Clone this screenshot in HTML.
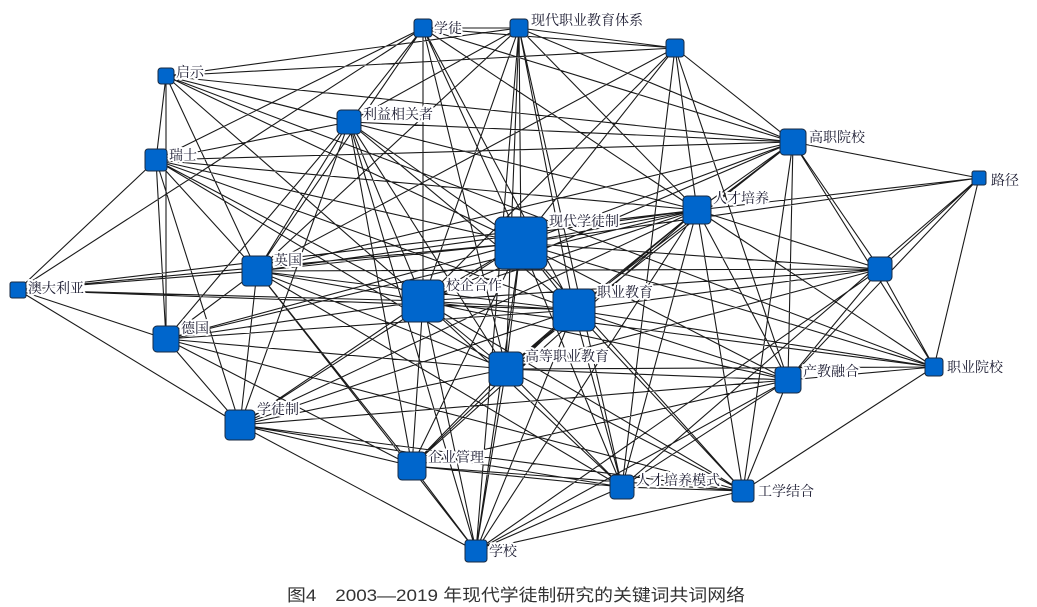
<!DOCTYPE html>
<html><head><meta charset="utf-8"><style>
html,body{margin:0;padding:0;background:#fff;}
svg{display:block}
text{font-family:"Liberation Serif","Noto Serif CJK SC",serif;font-size:14px;fill:#1a1a30;stroke:#fff;stroke-width:4px;paint-order:stroke;stroke-linejoin:round}
.cap{font-family:"Liberation Sans","Noto Sans CJK SC",sans-serif;font-size:17px;fill:#333;stroke:none}
</style></head><body>
<svg width="1037" height="607" viewBox="0 0 1037 607" xmlns="http://www.w3.org/2000/svg">
<g stroke="#1a1a1a" stroke-width="1.1" fill="none">
<path d="
M521 243L423 28 M521 243L519 28 M521 243L675 48 M521 243L166 76 M521 243L349 122 M521 243L793 142 M521 243L979 178 M521 243L697 210 M521 243L257 271 M521 243L880 269 M521 243L18 290 M521 243L423 301 M521 243L574 310 M521 243L166 339 M521 243L506 369 M521 243L934 367 M521 243L788 380 M521 243L240 425 M521 243L412 466 M521 243L622 487 M521 243L743 491 M521 243L476 551 M521 243L156 160
M423 301L423 28 M423 301L519 28 M423 301L675 48 M423 301L349 122 M423 301L793 142 M423 301L156 160 M423 301L697 210 M423 301L257 271 M423 301L880 269 M423 301L18 290 M423 301L574 310 M423 301L166 339 M423 301L506 369 M423 301L934 367 M423 301L788 380 M423 301L240 425 M423 301L412 466 M423 301L622 487 M423 301L743 491 M423 301L476 551 M423 301L166 76
M574 310L423 28 M574 310L519 28 M574 310L349 122 M574 310L793 142 M574 310L156 160 M574 310L697 210 M574 310L257 271 M574 310L880 269 M574 310L18 290 M574 310L166 339 M574 310L506 369 M574 310L788 380 M574 310L240 425 M574 310L412 466 M574 310L622 487 M574 310L743 491 M574 310L476 551 M574 310L934 367
M506 369L423 28 M506 369L519 28 M506 369L349 122 M506 369L793 142 M506 369L697 210 M506 369L257 271 M506 369L880 269 M506 369L166 339 M506 369L788 380 M506 369L240 425 M506 369L412 466 M506 369L622 487 M506 369L743 491 M506 369L476 551 M506 369L156 160 M506 369L934 367
M257 271L423 28 M257 271L519 28 M257 271L166 76 M257 271L349 122 M257 271L793 142 M257 271L156 160 M257 271L697 210 M257 271L880 269 M257 271L18 290 M257 271L166 339 M257 271L240 425 M257 271L412 466 M257 271L622 487 M257 271L476 551 M257 271L675 48
M697 210L423 28 M697 210L519 28 M697 210L675 48 M697 210L166 76 M697 210L793 142 M697 210L156 160 M697 210L979 178 M697 210L880 269 M697 210L166 339 M697 210L788 380 M697 210L240 425 M697 210L412 466 M697 210L622 487 M697 210L743 491 M697 210L476 551 M697 210L934 367 M697 210L18 290
M793 142L423 28 M793 142L519 28 M793 142L675 48 M793 142L166 76 M793 142L979 178 M793 142L880 269 M793 142L934 367 M793 142L788 380 M793 142L743 491 M793 142L349 122 M793 142L156 160
M349 122L423 28 M349 122L519 28 M349 122L166 76 M349 122L156 160 M349 122L166 339 M349 122L240 425 M349 122L412 466 M349 122L476 551
M240 425L166 339 M240 425L156 160 M240 425L18 290 M240 425L412 466 M240 425L622 487 M240 425L743 491 M240 425L476 551
M412 466L166 339 M412 466L622 487 M412 466L743 491 M412 466L476 551 M412 466L788 380
M788 380L675 48 M788 380L979 178 M788 380L880 269 M788 380L934 367 M788 380L622 487 M788 380L743 491 M788 380L240 425 M788 380L476 551
M622 487L743 491 M622 487L476 551 M622 487L519 28 M622 487L675 48
M743 491L934 367 M743 491L476 551 M743 491L166 339
M166 339L156 160 M166 339L166 76 M166 339L18 290 M156 160L166 76 M156 160L423 28
M476 551L519 28 M476 551L880 269 M880 269L979 178 M880 269L934 367 M675 48L423 28 M675 48L519 28 M675 48L166 76 M979 178L934 367 M979 178L622 487
M166 76L519 28 M166 76L934 367 M423 28L519 28 M18 290L156 160 M18 290L423 28
"/>
</g>
<g fill="#0066cc" stroke="#1a2a40" stroke-width="1">
<rect x="414" y="19" width="18" height="18" rx="3"/>
<rect x="510" y="19" width="18" height="18" rx="3"/>
<rect x="666" y="39" width="18" height="18" rx="3"/>
<rect x="158" y="68" width="16" height="16" rx="3"/>
<rect x="337" y="110" width="24" height="24" rx="4"/>
<rect x="780" y="129" width="26" height="26" rx="4"/>
<rect x="145" y="149" width="22" height="22" rx="3"/>
<rect x="972" y="171" width="14" height="14" rx="2"/>
<rect x="683" y="196" width="28" height="28" rx="4"/>
<rect x="495" y="217" width="52" height="52" rx="7"/>
<rect x="242" y="256" width="30" height="30" rx="4"/>
<rect x="868" y="257" width="24" height="24" rx="4"/>
<rect x="10" y="282" width="16" height="16" rx="2"/>
<rect x="402" y="280" width="42" height="42" rx="6"/>
<rect x="553" y="289" width="42" height="42" rx="6"/>
<rect x="153" y="326" width="26" height="26" rx="4"/>
<rect x="489" y="352" width="34" height="34" rx="5"/>
<rect x="925" y="358" width="18" height="18" rx="3"/>
<rect x="775" y="367" width="26" height="26" rx="4"/>
<rect x="225" y="410" width="30" height="30" rx="4"/>
<rect x="398" y="452" width="28" height="28" rx="4"/>
<rect x="610" y="475" width="24" height="24" rx="4"/>
<rect x="732" y="480" width="22" height="22" rx="3"/>
<rect x="465" y="540" width="22" height="22" rx="3"/>
</g>
<g>
<text x="434" y="33">学徒</text>
<text x="531" y="25">现代职业教育体系</text>
<text x="176" y="77">启示</text>
<text x="363" y="119">利益相关者</text>
<text x="809" y="142">高职院校</text>
<text x="169" y="160">瑞士</text>
<text x="991" y="185">路径</text>
<text x="713" y="203">人才培养</text>
<text x="549" y="226">现代学徒制</text>
<text x="274" y="265">英国</text>
<text x="28" y="293">澳大利亚</text>
<text x="446" y="290">校企合作</text>
<text x="597" y="297">职业教育</text>
<text x="181" y="333">德国</text>
<text x="525" y="361">高等职业教育</text>
<text x="947" y="372">职业院校</text>
<text x="803" y="376">产教融合</text>
<text x="257" y="414">学徒制</text>
<text x="428" y="462">企业管理</text>
<text x="636" y="485">人才培养模式</text>
<text x="758" y="496">工学结合</text>
<text x="489" y="556">学校</text>
<text class="cap" x="287" y="601" textLength="458" lengthAdjust="spacingAndGlyphs">图4　2003—2019 年现代学徒制研究的关键词共词网络</text>
</g>
</svg>
</body></html>
